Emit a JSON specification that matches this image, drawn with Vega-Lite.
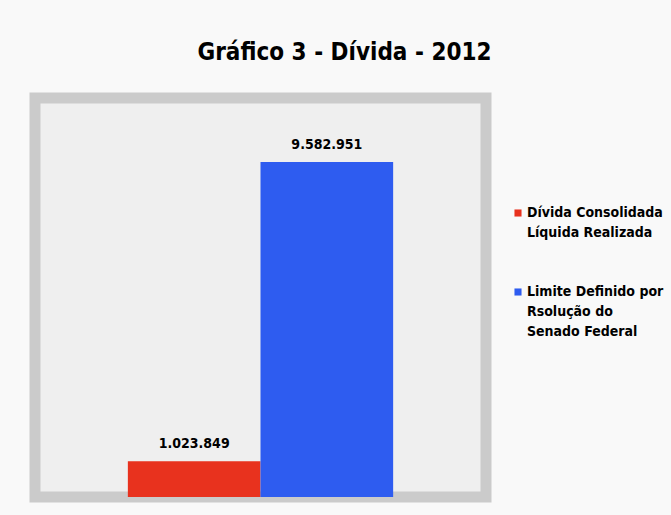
{
  "$schema": "https://vega.github.io/schema/vega-lite/v6.json",
  "width": 451,
  "height": 399,
  "autosize": "none",
  "padding": {"left": 35, "top": 98, "right": 185, "bottom": 18},
  "background": "#f9f9f9",
  "config": {
    "locale": {"number": {"decimal": ",", "thousands": ".", "grouping": [3], "currency": ["R$", ""]}},
    "view": {"fill": "#efefef", "stroke": "#cbcbcb", "strokeWidth": 11},
    "style": {"guide-label": {"lineHeight": 20}}
  },
  "title": {
    "text": "Gráfico 3 - Dívida - 2012",
    "font": "DejaVu Sans Condensed, DejaVu Sans, sans-serif",
    "fontSize": 24,
    "fontWeight": "bold",
    "color": "#000000",
    "anchor": "middle",
    "dx": 84,
    "offset": 33
  },
  "data": {
    "values": [
      {"serie": "Dívida Consolidada Líquida Realizada", "valor": 1023849},
      {"serie": "Limite Definido por Rsolução do Senado Federal", "valor": 9582951}
    ]
  },
  "encoding": {
    "x": {
      "field": "serie",
      "type": "nominal",
      "sort": null,
      "axis": null,
      "scale": {"paddingInner": 0, "paddingOuter": 0.7}
    },
    "y": {
      "field": "valor",
      "type": "quantitative",
      "axis": null,
      "scale": {"domain": [0, 11413700], "nice": false}
    }
  },
  "layer": [
    {
      "mark": {"type": "bar", "stroke": null},
      "encoding": {
        "color": {
          "field": "serie",
          "type": "nominal",
          "sort": null,
          "scale": {"range": ["#e8321e", "#2e5cf0"]},
          "legend": {
            "title": null,
            "orient": "none",
            "legendX": 476,
            "legendY": 108,
            "symbolType": "square",
            "symbolSize": 50,
            "symbolStrokeWidth": 0,
            "labelFont": "DejaVu Sans Condensed, DejaVu Sans, sans-serif",
            "labelFontSize": 14,
            "labelFontWeight": "bold",
            "labelColor": "#000000",
            "labelOffset": 2,
            "labelLimit": 200,
            "rowPadding": 45,
            "labelExpr": "datum.label == 'Dívida Consolidada Líquida Realizada' ? ['Dívida Consolidada', 'Líquida Realizada'] : ['Limite Definido por', 'Rsolução do', 'Senado Federal']"
          }
        }
      }
    },
    {
      "mark": {"type": "text", "dy": -17, "font": "DejaVu Sans Condensed, DejaVu Sans, sans-serif", "fontSize": 14, "fontWeight": "bold", "color": "#000000"},
      "encoding": {
        "text": {"field": "valor", "type": "quantitative", "format": ",d"}
      }
    }
  ]
}
